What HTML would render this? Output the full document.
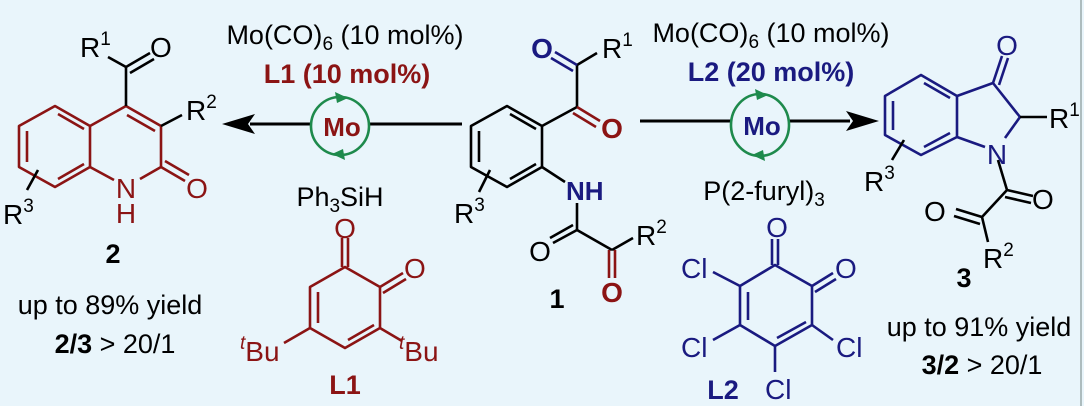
<!DOCTYPE html>
<html><head><meta charset="utf-8"><style>
html,body{margin:0;padding:0;background:#e9f5fb;}
svg{display:block;font-family:"Liberation Sans",sans-serif;}
</style></head><body>
<svg width="1084" height="406" viewBox="0 0 1084 406" xmlns="http://www.w3.org/2000/svg">
<rect x="0" y="0" width="1084" height="406" fill="#e9f5fb"/>
<line x1="1081" y1="0" x2="1081" y2="406" stroke="#9aa" stroke-width="1.5"/>

<!-- ===== Compound 2 (left) ===== -->
<g stroke="#8b1414" stroke-width="2.6" fill="none" stroke-linejoin="round">
<polygon points="55,106 90,126 90,167 55,187 19,167 19,126"/>
<line x1="58" y1="114" x2="84" y2="129"/>
<line x1="27" y1="131" x2="27" y2="162"/>
<line x1="58" y1="179" x2="84" y2="164"/>
<polyline points="90,126 126,106 161,126 161,167 140,179"/>
<line x1="90" y1="167" x2="114" y2="180"/>
<line x1="127" y1="115" x2="155" y2="131"/>
<line x1="161" y1="167" x2="185" y2="181"/>
<line x1="165" y1="161" x2="189" y2="175"/>
</g>
<g stroke="#000" stroke-width="2.6" fill="none">
<line x1="126" y1="106" x2="126" y2="67"/>
<line x1="126" y1="67" x2="150" y2="53"/>
<line x1="130" y1="73" x2="154" y2="59"/>
<line x1="126" y1="67" x2="108" y2="57"/>
<line x1="161" y1="126" x2="182" y2="115"/>
<line x1="38" y1="170" x2="27" y2="190"/>
</g>
<g font-size="28" fill="#000">
<text x="80" y="57">R<tspan font-size="19" dy="-12">1</tspan></text>
<text x="150" y="57">O</text>
<text x="186" y="120">R<tspan font-size="19" dy="-12">2</tspan></text>
<text x="3" y="224">R<tspan font-size="19" dy="-12">3</tspan></text>
</g>
<g font-size="28" fill="#8b1414" text-anchor="middle">
<text x="126" y="198">N</text>
<text x="126" y="223">H</text>
<text x="197" y="198">O</text>
</g>
<text x="113" y="263" font-size="27" font-weight="bold" text-anchor="middle">2</text>
<text x="110" y="314" font-size="27" text-anchor="middle">up to 89% yield</text>
<text x="115" y="353" font-size="27" text-anchor="middle"><tspan font-weight="bold">2/3</tspan> &gt; 20/1</text>

<!-- left arrow -->
<line x1="462" y1="124" x2="250" y2="124" stroke="#000" stroke-width="3"/>
<polygon points="222,124 255,114 248,124 255,134" fill="#000"/>
<text x="345" y="44" font-size="27" text-anchor="middle">Mo(CO)<tspan font-size="19" dy="6">6</tspan><tspan dy="-6"> (10 mol%)</tspan></text>
<text x="347" y="83" font-size="27" font-weight="bold" fill="#8b1414" text-anchor="middle">L1 (10 mol%)</text>
<circle cx="340" cy="126" r="29" fill="#e9f5fb" stroke="#1e8a4c" stroke-width="2.6"/>
<polygon points="348,98 335,92 337,103" fill="#1e8a4c"/>
<polygon points="332,154 345,160 343,149" fill="#1e8a4c"/>
<text x="342" y="136" font-size="26" font-weight="bold" fill="#8b1414" text-anchor="middle">Mo</text>
<text x="340" y="206" font-size="27" text-anchor="middle">Ph<tspan font-size="19" dy="6">3</tspan><tspan dy="-6">SiH</tspan></text>

<!-- L1 -->
<g stroke="#8b1414" stroke-width="2.6" fill="none" stroke-linejoin="round">
<polygon points="345,267 380,287 380,328 345,348 310,328 310,287"/>
<line x1="318" y1="292" x2="318" y2="323"/>
<line x1="348" y1="340" x2="374" y2="325"/>
<line x1="342" y1="267" x2="342" y2="238"/>
<line x1="348" y1="267" x2="348" y2="238"/>
<line x1="380" y1="287" x2="403" y2="273"/>
<line x1="383" y1="293" x2="406" y2="279"/>
<line x1="310" y1="328" x2="284" y2="343"/>
<line x1="380" y1="328" x2="402" y2="341"/>
</g>
<g font-size="28" fill="#8b1414">
<text x="345" y="238" text-anchor="middle">O</text>
<text x="404" y="278">O</text>
<text x="240" y="361"><tspan font-style="italic" font-size="19" dy="-12">t</tspan><tspan dy="12">Bu</tspan></text>
<text x="399" y="361"><tspan font-style="italic" font-size="19" dy="-12">t</tspan><tspan dy="12">Bu</tspan></text>
<text x="345" y="394" font-weight="bold" font-size="27" text-anchor="middle">L1</text>
</g>

<!-- ===== Compound 1 (center) ===== -->
<g stroke="#000" stroke-width="2.6" fill="none" stroke-linejoin="round">
<polygon points="507,106 542,126 542,167 507,187 471,167 471,126"/>
<line x1="510" y1="114" x2="536" y2="129"/>
<line x1="479" y1="131" x2="479" y2="162"/>
<line x1="510" y1="179" x2="536" y2="164"/>
<line x1="542" y1="126" x2="577" y2="107"/>
<line x1="577" y1="107" x2="577" y2="65"/>
<line x1="577" y1="65" x2="597" y2="53"/>
<line x1="542" y1="167" x2="565" y2="182"/>
<line x1="577" y1="203" x2="577" y2="230"/>
<line x1="577" y1="230" x2="612" y2="250"/>
<line x1="612" y1="250" x2="633" y2="238"/>
<line x1="577" y1="230" x2="553" y2="243"/>
<line x1="573" y1="225" x2="550" y2="238"/>
<line x1="490" y1="170" x2="479" y2="192"/>
</g>
<g stroke="#8b1414" stroke-width="2.6">
<line x1="577" y1="107" x2="600" y2="121"/>
<line x1="573" y1="113" x2="596" y2="127"/>
<line x1="609" y1="250" x2="609" y2="278"/>
<line x1="615" y1="250" x2="615" y2="278"/>
</g>
<g stroke="#1a1a80" stroke-width="2.6">
<line x1="577" y1="65" x2="555" y2="52"/>
<line x1="573" y1="71" x2="551" y2="58"/>
</g>
<text x="542" y="58" font-size="28" font-weight="bold" fill="#1a1a80" text-anchor="middle">O</text>
<text x="612" y="138" font-size="28" font-weight="bold" fill="#8b1414" text-anchor="middle">O</text>
<text x="612" y="302" font-size="28" font-weight="bold" fill="#8b1414" text-anchor="middle">O</text>
<text x="566" y="200" font-size="26" font-weight="bold" fill="#1a1a80">NH</text>
<g font-size="28">
<text x="602" y="58">R<tspan font-size="19" dy="-12">1</tspan></text>
<text x="636" y="245">R<tspan font-size="19" dy="-12">2</tspan></text>
<text x="454" y="223">R<tspan font-size="19" dy="-12">3</tspan></text>
<text x="540" y="261" text-anchor="middle">O</text>
</g>
<text x="557" y="308" font-size="27" font-weight="bold" text-anchor="middle">1</text>

<!-- right arrow -->
<line x1="640" y1="121" x2="850" y2="121" stroke="#000" stroke-width="3"/>
<polygon points="879,121 846,111 853,121 846,131" fill="#000"/>
<text x="771" y="42" font-size="27" text-anchor="middle">Mo(CO)<tspan font-size="19" dy="6">6</tspan><tspan dy="-6"> (10 mol%)</tspan></text>
<text x="771" y="81" font-size="27" font-weight="bold" fill="#1a1a80" text-anchor="middle">L2 (20 mol%)</text>
<ellipse cx="760" cy="125" rx="29" ry="31" fill="#e9f5fb" stroke="#1e8a4c" stroke-width="2.6"/>
<polygon points="768,95 755,89 757,100" fill="#1e8a4c"/>
<polygon points="752,155 765,161 763,150" fill="#1e8a4c"/>
<text x="762" y="135" font-size="26" font-weight="bold" fill="#1a1a80" text-anchor="middle">Mo</text>
<text x="764" y="200" font-size="27" text-anchor="middle">P(2-furyl)<tspan font-size="19" dy="6">3</tspan></text>

<!-- L2 -->
<g stroke="#1a1a80" stroke-width="2.6" fill="none" stroke-linejoin="round">
<polygon points="775,265 812,286 812,325 775,346 740,325 740,286"/>
<line x1="748" y1="292" x2="748" y2="320"/>
<line x1="777" y1="338" x2="806" y2="322"/>
<line x1="772" y1="265" x2="772" y2="239"/>
<line x1="778" y1="265" x2="778" y2="239"/>
<line x1="812" y1="286" x2="833" y2="273"/>
<line x1="815" y1="292" x2="836" y2="279"/>
<line x1="740" y1="286" x2="713" y2="272"/>
<line x1="740" y1="325" x2="713" y2="340"/>
<line x1="812" y1="325" x2="833" y2="340"/>
<line x1="775" y1="346" x2="775" y2="372"/>
</g>
<g font-size="28" fill="#1a1a80">
<text x="777" y="237" text-anchor="middle">O</text>
<text x="835" y="278">O</text>
<text x="681" y="278">Cl</text>
<text x="681" y="357">Cl</text>
<text x="836" y="357">Cl</text>
<text x="765" y="399">Cl</text>
<text x="723" y="399" font-weight="bold" font-size="27" text-anchor="middle">L2</text>
</g>

<!-- ===== Compound 3 (right) ===== -->
<g stroke="#1a1a80" stroke-width="2.6" fill="none" stroke-linejoin="round">
<polygon points="921,75 957,96 957,137 921,155 885,135 885,96"/>
<line x1="924" y1="83" x2="950" y2="98"/>
<line x1="893" y1="101" x2="893" y2="130"/>
<line x1="924" y1="147" x2="950" y2="133"/>
<polyline points="957,96 993,83 1020,117 1005,138"/>
<line x1="957" y1="137" x2="985" y2="147"/>
<line x1="993" y1="83" x2="1002" y2="56"/>
<line x1="999" y1="85" x2="1008" y2="58"/>
</g>
<g stroke="#000" stroke-width="2.6" fill="none">
<line x1="1020" y1="117" x2="1047" y2="117"/>
<line x1="998" y1="160" x2="1007" y2="190"/>
<line x1="1007" y1="190" x2="1033" y2="196"/>
<line x1="1005" y1="197" x2="1031" y2="203"/>
<line x1="1007" y1="190" x2="982" y2="217"/>
<line x1="982" y1="217" x2="956" y2="209"/>
<line x1="980" y1="224" x2="954" y2="216"/>
<line x1="982" y1="217" x2="988" y2="242"/>
<line x1="904" y1="140" x2="892" y2="160"/>
</g>
<text x="1007" y="55" font-size="28" fill="#1a1a80" text-anchor="middle">O</text>
<text x="997" y="164" font-size="28" fill="#1a1a80" text-anchor="middle">N</text>
<g font-size="28">
<text x="1049" y="128">R<tspan font-size="19" dy="-12">1</tspan></text>
<text x="1032" y="209">O</text>
<text x="924" y="221">O</text>
<text x="983" y="268">R<tspan font-size="19" dy="-12">2</tspan></text>
<text x="864" y="191">R<tspan font-size="19" dy="-12">3</tspan></text>
</g>
<text x="964" y="287" font-size="27" font-weight="bold" text-anchor="middle">3</text>
<text x="979" y="336" font-size="27" text-anchor="middle">up to 91% yield</text>
<text x="982" y="374" font-size="27" text-anchor="middle"><tspan font-weight="bold">3/2</tspan> &gt; 20/1</text>
</svg>
</body></html>
